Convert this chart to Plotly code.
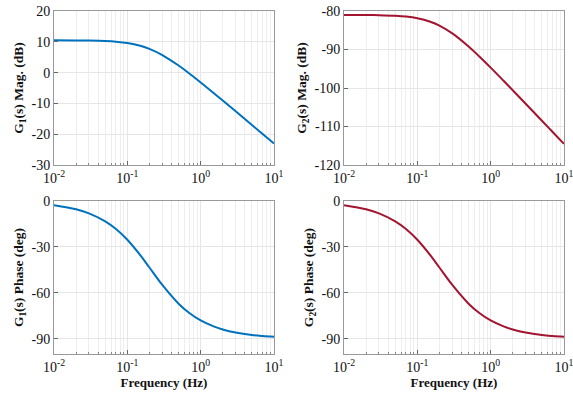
import plotly.graph_objects as go

freq = [0.01, 0.02, 0.03, 0.05, 0.07, 0.1, 0.15, 0.2, 0.3, 0.5, 0.7, 1, 1.5, 2, 3, 5, 7, 10]
g1_mag = [10.49, 10.46, 10.41, 10.26, 10.05, 9.62, 8.72, 7.72, 5.70, 2.29, -0.30, -3.20,
          -6.62, -9.08, -12.58, -17.00, -19.92, -23.02]
g2_mag = [-81.01, -81.04, -81.09, -81.24, -81.45, -81.88, -82.78, -83.78, -85.80, -89.21,
          -91.80, -94.70, -98.12, -100.58, -104.08, -108.50, -111.42, -114.52]
g1_phase = [-2.71, -5.42, -8.09, -13.33, -18.36, -25.36, -35.41, -43.48, -54.88, -67.12,
            -73.23, -78.09, -81.99, -83.98, -85.98, -87.58, -88.27, -88.79]
g2_phase = [-2.71, -5.42, -8.09, -13.33, -18.36, -25.36, -35.41, -43.48, -54.88, -67.12,
            -73.23, -78.09, -81.99, -83.98, -85.98, -87.58, -88.27, -88.79]

x_tickvals = [0.01, 0.1, 1, 10]
x_ticktext = ["10<sup>-2</sup>", "10<sup>-1</sup>", "10<sup>0</sup>", "10<sup>1</sup>"]
minor_vals = [m * d for d in [0.01, 0.1, 1] for m in range(2, 10)]
g1_mag_ticks = [20, 10, 0, -10, -20, -30]
g2_mag_ticks = [-80, -90, -100, -110, -120]
phase_ticks = [0, -30, -60, -90]

blue = "#0072BD"
red = "#A2142F"
serif = "Liberation Serif"

fig = go.Figure()
fig.add_trace(go.Scatter(x=freq, y=g1_mag, mode="lines", line=dict(color=blue, width=2, shape="spline"),
                         xaxis="x", yaxis="y", showlegend=False))
fig.add_trace(go.Scatter(x=freq, y=g2_mag, mode="lines", line=dict(color=red, width=2, shape="spline"),
                         xaxis="x2", yaxis="y2", showlegend=False))
fig.add_trace(go.Scatter(x=freq, y=g1_phase, mode="lines", line=dict(color=blue, width=2, shape="spline"),
                         xaxis="x3", yaxis="y3", showlegend=False))
fig.add_trace(go.Scatter(x=freq, y=g2_phase, mode="lines", line=dict(color=red, width=2, shape="spline"),
                         xaxis="x4", yaxis="y4", showlegend=False))

xl = [54 / 573, 274 / 573]
xr = [344 / 573, 564 / 573]
yt = [1 - 165 / 397, 1 - 11 / 397]
yb = [1 - 354 / 397, 1 - 201 / 397]

def xaxis(domain, anchor, title=None):
    d = dict(type="log", range=[-2, 1], domain=domain, anchor=anchor, automargin=False,
             tickvals=x_tickvals, ticktext=x_ticktext, ticks="inside", ticklen=4,
             ticklabeloverflow="allow",
             tickcolor="#666", showline=True, linecolor="#999", linewidth=1, mirror=True,
             showgrid=True, gridcolor="#e6e6e6", gridwidth=1,
             minor=dict(tickvals=minor_vals, ticks="inside", ticklen=2, tickcolor="#888",
                        showgrid=True, gridcolor="#eeeeee", gridwidth=1),
             tickfont=dict(family=serif, size=14, color="#111"), zeroline=False)
    if title:
        d["title"] = dict(text="<b>" + title + "</b>", font=dict(family=serif, size=13, color="#111"), standoff=2)
    return d

def yaxis(domain, anchor, rng, vals, title):
    return dict(range=rng, domain=domain, anchor=anchor, tickvals=vals,
                ticktext=[str(v) for v in vals], ticks="inside", ticklen=4,
                automargin=False, ticklabeloverflow="allow",
                tickcolor="#666", showline=True, linecolor="#999", linewidth=1, mirror=True,
                showgrid=True, gridcolor="#e6e6e6", zeroline=False,
                tickfont=dict(family=serif, size=14, color="#111"),
                title=dict(text="<b>" + title + "</b>", font=dict(family=serif, size=13.5, color="#111"), standoff=4))

fig.update_layout(
    width=573, height=397, margin=dict(l=0, r=0, t=0, b=0, autoexpand=False),
    paper_bgcolor="white", plot_bgcolor="white",
    xaxis=xaxis(xl, "y"),
    yaxis=yaxis(yt, "x", [-30, 20], g1_mag_ticks, "G<sub>1</sub>(s) Mag. (dB)"),
    xaxis2=xaxis(xr, "y2"),
    yaxis2=yaxis(yt, "x2", [-120, -80], g2_mag_ticks, "G<sub>2</sub>(s) Mag. (dB)"),
    xaxis3=xaxis(xl, "y3", "Frequency (Hz)"),
    yaxis3=yaxis(yb, "x3", [-100, 0], phase_ticks, "G<sub>1</sub>(s) Phase (deg)"),
    xaxis4=xaxis(xr, "y4", "Frequency (Hz)"),
    yaxis4=yaxis(yb, "x4", [-100, 0], phase_ticks, "G<sub>2</sub>(s) Phase (deg)"),
)

fig.write_html("out.html", config={"displayModeBar": False},
               post_script="document.body.style.margin='0';document.body.style.overflow='hidden';")
